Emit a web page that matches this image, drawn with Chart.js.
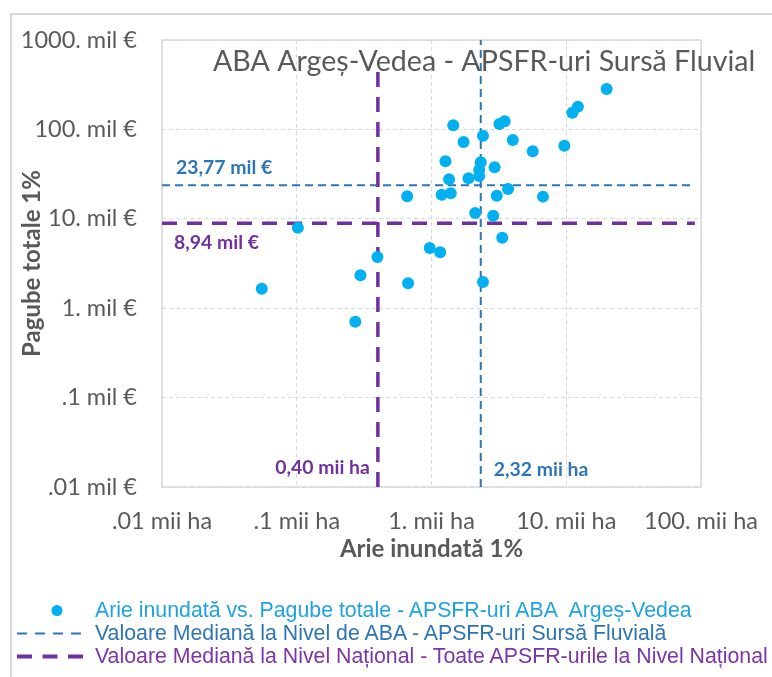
<!DOCTYPE html>
<html>
<head>
<meta charset="utf-8">
<script src="https://cdn.jsdelivr.net/npm/chart.js@4.4.1/dist/chart.umd.min.js"></script>
<style>
html,body{margin:0;padding:0;background:#fff;}
#wrap{position:relative;width:772px;height:677px;overflow:hidden;background:#fff;}
#frame{position:absolute;left:10px;top:13px;width:800px;height:700px;border-top:2px solid #d9d9d9;border-left:2px solid #d9d9d9;box-sizing:border-box;}
canvas{position:absolute;left:0;top:0;}
.row{position:absolute;left:0;height:23px;width:772px;}
.row svg{position:absolute;left:0;top:0;}
.row span{position:absolute;left:95px;top:0;font-family:'Liberation Sans',Arial,sans-serif;font-size:21.3px;line-height:23px;white-space:nowrap;}
</style>
</head>
<body>
<div id="wrap">
  <div id="frame"></div>
  <canvas id="c" width="772" height="677"></canvas>
  <div id="legend"></div>
</div>
<script>
// ---- data ----
const ariaInundata = [19.95, 12.2, 11.1, 1.45, 3.19, 3.49, 2.41, 1.73, 4.01, 5.64, 9.68, 1.27, 2.32, 2.94, 2.26, 2.26, 1.35, 1.88, 0.66, 1.19, 1.39, 3.70, 3.05, 6.72, 2.11, 2.87, 3.35, 0.97, 1.16, 0.67, 2.41, 0.102, 0.055, 0.297, 0.397, 0.272];
const pagubeTotale = [283, 179, 154, 111, 115, 123, 85.1, 72.3, 76.1, 56.9, 65.7, 44.0, 42.9, 37.7, 35.2, 30.1, 27.7, 28.4, 17.9, 18.6, 19.3, 21.5, 18.1, 17.7, 11.6, 10.8, 6.15, 4.71, 4.22, 1.90, 1.96, 7.95, 1.65, 2.33, 3.74, 0.707];

const medianaABA = [2.32, 23.77];        // [arie mii ha, pagube mil €]
const medianaNational = [0.40, 8.94];

const xTickValues = [0.01, 0.1, 1, 10, 100];
const xTickLabels = ['.01 mii ha', '.1 mii ha', '1. mii ha', '10. mii ha', '100. mii ha'];
const yTickValues = [0.01, 0.1, 1, 10, 100, 1000];
const yTickLabels = ['.01 mil €', '.1 mil €', '1. mil €', '10. mil €', '100. mil €', '1000. mil €'];

const chartTitle = 'ABA Argeș-Vedea - APSFR-uri Sursă Fluvial';
const xTitle = 'Arie inundată 1%';
const yTitle = 'Pagube totale 1%';
const labelMedABAy = '23,77 mil €';
const labelMedNaty = '8,94 mil €';
const labelMedABAx = '2,32 mii ha';
const labelMedNatx = '0,40 mii ha';
const legendLabels = [
  'Arie inundată vs. Pagube totale - APSFR-uri ABA\u00a0 Argeș-Vedea',
  'Valoare Mediană la Nivel de ABA - APSFR-uri Sursă Fluvială',
  'Valoare Mediană la Nivel Național - Toate APSFR-urile la Nivel Național'
];

// ---- colours ----
const cPoint = '#00B0F0';
const cBlue = '#2E75B6';
const cPurple = '#7030A0';
const cGrey = '#595959';

const points = ariaInundata.map((x, i) => ({x: x, y: pagubeTotale[i]}));
const X_MIN = xTickValues[0], X_MAX = xTickValues[xTickValues.length - 1];
const Y_MIN = yTickValues[0], Y_MAX = yTickValues[yTickValues.length - 1];

const overlay = {
  id: 'overlay',
  beforeDatasetsDraw(chart) {
    const {ctx, chartArea: a} = chart;
    ctx.save();
    ctx.strokeStyle = '#d9d9d9';
    ctx.lineWidth = 1.5;
    ctx.setLineDash([]);
    ctx.strokeRect(a.left, a.top, a.right - a.left, a.bottom - a.top);
    ctx.restore();
  },
  afterDatasetsDraw(chart) {
    const {ctx, chartArea: a, scales} = chart;
    const xs = scales.x, ys = scales.y;
    ctx.save();
    ctx.textBaseline = 'middle';
    ctx.font = '28.6px Lato';
    ctx.fillStyle = cGrey;
    ctx.textAlign = 'left';
    ctx.fillText(chartTitle, 213, 62);

    ctx.font = 'bold 19.4px Lato';
    ctx.fillStyle = cBlue;
    ctx.fillText(labelMedABAy, a.left + 14, ys.getPixelForValue(medianaABA[1]) - 17);
    ctx.fillText(labelMedABAx, xs.getPixelForValue(medianaABA[0]) + 13, a.bottom - 17);
    ctx.fillStyle = cPurple;
    ctx.fillText(labelMedNaty, a.left + 12, ys.getPixelForValue(medianaNational[1]) + 20);
    ctx.textAlign = 'right';
    ctx.fillText(labelMedNatx, xs.getPixelForValue(medianaNational[0]) - 8, a.bottom - 19);
    ctx.restore();
  }
};

const chart = new Chart(document.getElementById('c'), {
  type: 'scatter',
  data: {
    datasets: [
      {
        label: legendLabels[0],
        data: points,
        backgroundColor: cPoint,
        borderWidth: 0,
        pointRadius: 6,
        order: 0
      },
      {
        label: legendLabels[1],
        type: 'line',
        data: [{x: X_MIN, y: medianaABA[1]}, {x: 90, y: medianaABA[1]}],
        borderColor: cBlue, borderWidth: 2, borderDash: [8, 5], pointRadius: 0, fill: false, order: 2
      },
      {
        label: legendLabels[1],
        type: 'line',
        data: [{x: medianaABA[0], y: Y_MIN}, {x: medianaABA[0], y: Y_MAX}],
        borderColor: cBlue, borderWidth: 2, borderDash: [8, 5], pointRadius: 0, fill: false, order: 2
      },
      {
        label: legendLabels[2],
        type: 'line',
        data: [{x: X_MIN, y: medianaNational[1]}, {x: 90, y: medianaNational[1]}],
        borderColor: cPurple, borderWidth: 3.5, borderDash: [15, 10], pointRadius: 0, fill: false, order: 1
      },
      {
        label: legendLabels[2],
        type: 'line',
        data: [{x: medianaNational[0], y: Y_MIN}, {x: medianaNational[0], y: 450}],
        borderColor: cPurple, borderWidth: 3.5, borderDash: [15, 10], pointRadius: 0, fill: false, order: 1
      }
    ]
  },
  options: {
    responsive: false,
    animation: false,
    events: [],
    layout: {padding: {top: 40, right: 71, left: 0, bottom: 0}},
    plugins: {legend: {display: false}, tooltip: {enabled: false}},
    scales: {
      x: {
        type: 'logarithmic', min: X_MIN, max: X_MAX, position: 'bottom',
        afterBuildTicks(s) { s.ticks = xTickValues.map(v => ({value: v})); },
        afterFit(s) { s.height = 190; s.paddingLeft = 0; s.paddingRight = 0; },
        ticks: {
          callback: (v) => xTickLabels[xTickValues.indexOf(v)],
          padding: 20, autoSkip: false, maxRotation: 0,
          font: {family: 'Lato', size: 23.5}, color: cGrey
        },
        grid: {color: '#d9d9d9', lineWidth: 1, drawTicks: false},
        border: {display: false, dash: [4, 3]},
        title: {display: true, text: xTitle, color: cGrey, font: {family: 'Lato', size: 24, weight: 'bold'}, padding: {top: 0, bottom: 113.6}}
      },
      y: {
        type: 'logarithmic', min: Y_MIN, max: Y_MAX, position: 'left',
        afterBuildTicks(s) { s.ticks = yTickValues.map(v => ({value: v})); },
        afterFit(s) { s.width = 162; s.paddingTop = 0; s.paddingBottom = 0; },
        ticks: {
          callback: (v) => yTickLabels[yTickValues.indexOf(v)],
          padding: 25, autoSkip: false,
          font: {family: 'Lato', size: 23.5}, color: cGrey
        },
        grid: {color: '#d9d9d9', lineWidth: 1, drawTicks: false},
        border: {display: false, dash: [4, 3]},
        title: {display: true, text: yTitle, color: cGrey, font: {family: 'Lato', size: 24, weight: 'bold'}, padding: {top: 17.6, bottom: 0}}
      }
    }
  },
  plugins: [overlay]
});

// keep the plot area where the reference has it (left 162, right 701, top 40, bottom 487)
(function fixArea() {
  const pad = chart.options.layout.padding;
  for (let k = 0; k < 3; k++) {
    const a = chart.chartArea;
    const dR = a.right - 701, dT = 40 - a.top, dB = a.bottom - 487;
    if (Math.abs(dR) < 0.5 && Math.abs(dT) < 0.5 && Math.abs(dB) < 0.5) break;
    pad.right = Math.max(0, pad.right + dR);
    pad.top = Math.max(0, pad.top + dT);
    pad.bottom = Math.max(0, pad.bottom + dB);
    chart.update();
  }
})();

// ---- HTML legend ----
(function () {
  const leg = document.getElementById('legend');
  const rows = [
    {top: 599, color: '#1FA3E0', marker: '<svg width="90" height="23"><circle cx="57" cy="11.5" r="5.5" fill="' + cPoint + '"/></svg>'},
    {top: 622, color: cBlue, marker: '<svg width="90" height="23"><line x1="17" y1="11.5" x2="83" y2="11.5" stroke="' + cBlue + '" stroke-width="2" stroke-dasharray="10 8"/></svg>'},
    {top: 645, color: '#7B35A8', marker: '<svg width="90" height="23"><line x1="17" y1="11.5" x2="83" y2="11.5" stroke="' + cPurple + '" stroke-width="4" stroke-dasharray="15 10.5"/></svg>'}
  ];
  rows.forEach((r, i) => {
    const d = document.createElement('div');
    d.className = 'row';
    d.style.top = r.top + 'px';
    d.innerHTML = r.marker + '<span style="color:' + r.color + '">' + legendLabels[i] + '</span>';
    leg.appendChild(d);
  });
})();
</script>
</body>
</html>
